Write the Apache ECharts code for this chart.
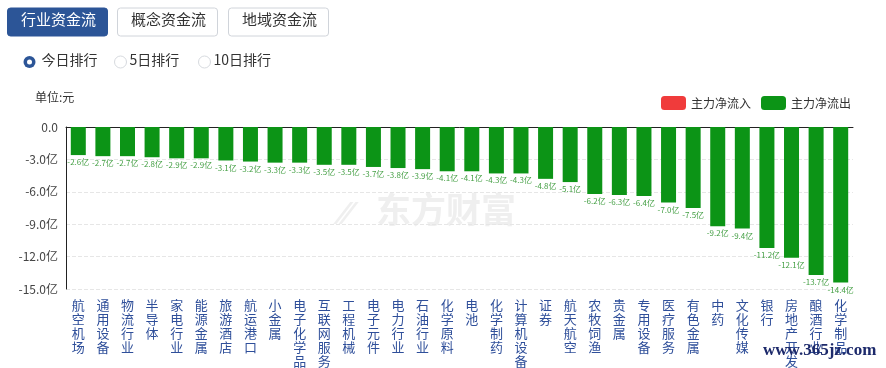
<!DOCTYPE html>
<html><head><meta charset="utf-8">
<script src="https://cdn.jsdelivr.net/npm/echarts@6/dist/echarts.min.js"></script>
<style>html,body{margin:0;padding:0;background:#fff;}#c{width:886px;height:368px;}</style>
</head><body><div id="c"></div>
<script>
const categories = ['航空机场','通用设备','物流行业','半导体','家电行业','能源金属','旅游酒店','航运港口','小金属','电子化学品','互联网服务','工程机械','电子元件','电力行业','石油行业','化学原料','电池','化学制药','计算机设备','证券','航天航空','农牧饲渔','贵金属','专用设备','医疗服务','有色金属','中药','文化传媒','银行','房地产开发','酿酒行业','化学制品'];
const outflow = [-2.6,-2.7,-2.7,-2.8,-2.9,-2.9,-3.1,-3.2,-3.3,-3.3,-3.5,-3.5,-3.7,-3.8,-3.9,-4.1,-4.1,-4.3,-4.3,-4.8,-5.1,-6.2,-6.3,-6.4,-7.0,-7.5,-9.2,-9.4,-11.2,-12.1,-13.7,-14.4];
const inflow = [];
const yTicks = {min:-15, max:0, interval:3};
const tabs = ['行业资金流','概念资金流','地域资金流'];
const radios = ['今日排行','5日排行','10日排行'];

const FONT = '"Noto Sans CJK SC","Microsoft YaHei",sans-serif';
const chart = echarts.init(document.getElementById('c'));
const tabX = [7,117,228];
const radioX = [29.5,120.5,204.5];
const graphics = [];
tabs.forEach((t,i)=>{
  graphics.push({type:'rect',left:tabX[i],top:7.5,shape:{width:100,height:28,r:3},
    style:{fill:i===0?'#2c5597':'#fff',stroke:i===0?'#2c5597':'#d0d4da',lineWidth:1}});
  graphics.push({type:'text',left:tabX[i]+50-36,top:12,style:{text:t,fill:i===0?'#fff':'#333',font:'15px '+FONT}});
});
radios.forEach((t,i)=>{
  if(i===0){
    graphics.push({type:'circle',shape:{cx:radioX[i],cy:62,r:6},style:{fill:'#2c5597'}});
    graphics.push({type:'circle',shape:{cx:radioX[i],cy:62,r:2.5},style:{fill:'#fff'}});
  } else {
    graphics.push({type:'circle',shape:{cx:radioX[i],cy:62,r:6},style:{fill:'#fff',stroke:'#d6d9de',lineWidth:1}});
  }
  graphics.push({type:'text',left:radioX[i]+(i===0?12:9),top:53,style:{text:t,fill:'#333',font:'14px '+FONT}});
});
graphics.push({type:'text',left:35,top:91,style:{text:'单位:元',fill:'#333',font:'12px '+FONT}});
graphics.push({type:'text',left:376,top:192,z:-1,style:{text:'东方财富',fill:'#efefef',font:'bold 35px '+FONT}});
graphics.push({type:'text',left:340,top:196,z:-1,style:{text:'⁄⁄',fill:'#efefef',font:'italic bold 32px '+FONT}});
graphics.push({type:'text',left:763,top:342,z:10,style:{text:'www.365jz.com',fill:'#1d2a6b',font:'bold 17px "Liberation Serif",serif'}});

chart.setOption({
  animation:false,
  textStyle:{fontFamily:FONT},
  graphic:graphics,
  legend:{right:30,top:91,itemWidth:25,itemHeight:14,itemGap:10,
    textStyle:{fontSize:12,color:'#333',fontFamily:FONT},
    data:[{name:'主力净流入',itemStyle:{color:'#f03b3b'}},{name:'主力净流出',itemStyle:{color:'#0c9416'}}]},
  grid:{left:66,right:33,top:127,bottom:75,containLabel:false},
  xAxis:[{type:'category',data:categories,position:'bottom',
    axisLine:{show:false},axisTick:{show:false},
    axisLabel:{interval:0,color:'#2f4f9a',fontSize:13,lineHeight:14,margin:9,
      formatter:v=>v.split('').join('\n')}},
    {type:'category',data:categories,position:'top',
    axisLine:{show:true,onZero:false,lineStyle:{color:'#222',width:1}},axisTick:{show:false},axisLabel:{show:false}}],
  yAxis:{type:'value',min:yTicks.min,max:yTicks.max,interval:yTicks.interval,
    axisLine:{show:true,lineStyle:{color:'#222'}},axisTick:{show:false},
    axisLabel:{color:'#444',fontSize:12,margin:8,formatter:v=>v===0?'0.0':v.toFixed(1)+'亿'},
    splitLine:{show:true,lineStyle:{color:'#e6e6e6',type:'dashed'}}},
  series:[
    {name:'主力净流入',type:'bar',data:inflow,itemStyle:{color:'#f03b3b'}},
    {name:'主力净流出',type:'bar',data:outflow,barWidth:15,barGap:'-100%',
      itemStyle:{color:'#0c9416'},
      label:{show:true,position:'bottom',distance:3,fontSize:8,color:'#46a046',
        formatter:p=>p.value.toFixed(1)+'亿'}}
  ]
});
</script></body></html>
